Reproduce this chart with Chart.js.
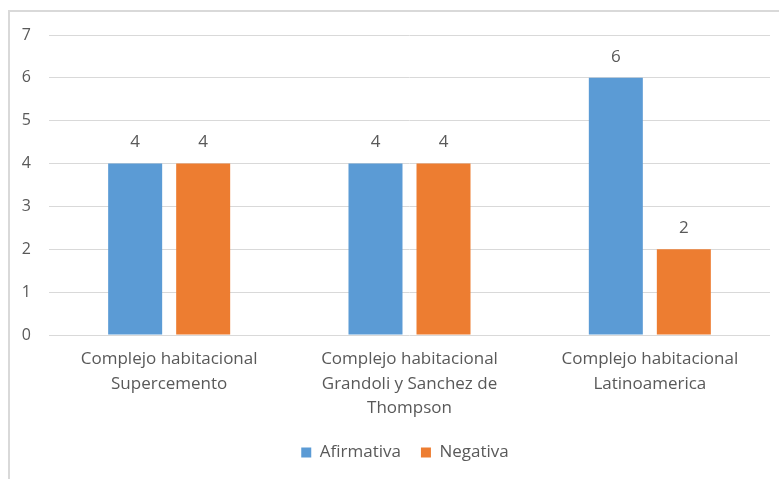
<!DOCTYPE html>
<html>
<head>
<meta charset="utf-8">
<script src="https://cdn.jsdelivr.net/npm/chart.js@4.4.1/dist/chart.umd.min.js"></script>
<style>
  html, body { margin: 0; padding: 0; background: #fff; }
  #frame {
    position: absolute; left: 8px; top: 10px; width: 779px; height: 479px;
    border-left: 2px solid #d9d9d9; border-top: 2px solid #d9d9d9;
  }
  #wrap { position: absolute; left: 0; top: 0; width: 779px; height: 479px; }
</style>
</head>
<body>
<div id="frame"></div>
<div id="wrap"><canvas id="chart" width="779" height="479"></canvas></div>
<script>
'use strict';

const categories = [
  ['Complejo habitacional', 'Supercemento'],
  ['Complejo habitacional', 'Grandoli y Sanchez de', 'Thompson'],
  ['Complejo habitacional', 'Latinoamerica']
];
const afirmativa = [4, 4, 6];
const negativa = [4, 4, 2];
const yTicks = [0, 1, 2, 3, 4, 5, 6, 7];

const textColor = '#595959';
const fontFamily = "'Open Sans', 'Liberation Sans', sans-serif";

// values printed above each bar
const barValues = {
  id: 'barValues',
  afterDatasetsDraw(chart) {
    const ctx = chart.ctx;
    ctx.save();
    ctx.fillStyle = textColor;
    ctx.font = '17px ' + fontFamily;
    ctx.textAlign = 'center';
    ctx.textBaseline = 'middle';
    chart.data.datasets.forEach((ds, i) => {
      chart.getDatasetMeta(i).data.forEach((bar, j) => {
        ctx.fillText(String(ds.data[j]), bar.x, bar.y - 21);
      });
    });
    ctx.restore();
  }
};

// center the legend under the plot area instead of the whole canvas
const legendUnderPlot = {
  id: 'legendUnderPlot',
  afterLayout(chart) {
    const lg = chart.legend;
    const shift = chart.chartArea.left / 2 - (chart.width - chart.chartArea.right) / 2;
    lg.left += shift;
    lg.right += shift;
  }
};

new Chart(document.getElementById('chart'), {
  type: 'bar',
  data: {
    labels: categories,
    datasets: [
      { label: 'Afirmativa', data: afirmativa, backgroundColor: '#5b9bd5',
        categoryPercentage: 0.566, barPercentage: 0.794 },
      { label: 'Negativa', data: negativa, backgroundColor: '#ed7d31',
        categoryPercentage: 0.566, barPercentage: 0.794 }
    ]
  },
  options: {
    responsive: false,
    animation: false,
    layout: { padding: { top: 35, right: 9, left: 0, bottom: 8 } },
    scales: {
      x: {
        grid: { display: false },
        border: { display: false },
        ticks: { color: textColor, font: { family: fontFamily, size: 17, lineHeight: 1.45 }, maxRotation: 0, padding: 4 },
        afterFit(scale) { scale.height = 89; }
      },
      y: {
        min: 0,
        max: 7,
        afterBuildTicks(scale) { scale.ticks = yTicks.map(v => ({ value: v })); },
        grid: { color: '#d9d9d9', lineWidth: 1, drawTicks: false },
        border: { display: false },
        ticks: { color: textColor, font: { family: fontFamily, size: 16 }, padding: 18 },
        afterFit(scale) { scale.width = 49; }
      }
    },
    plugins: {
      legend: {
        position: 'bottom',
        labels: {
          color: textColor,
          font: { family: fontFamily, size: 17 },
          boxWidth: 10,
          boxHeight: 10,
          padding: 20
        }
      },
      tooltip: { enabled: false }
    }
  },
  plugins: [barValues, legendUnderPlot]
});
</script>
</body>
</html>
